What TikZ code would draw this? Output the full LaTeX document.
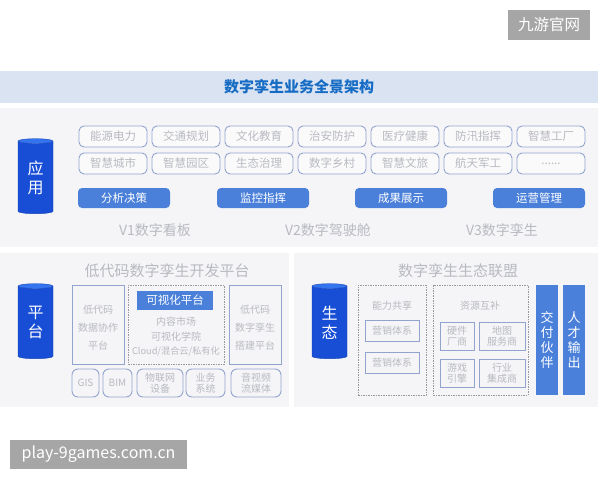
\documentclass[tikz,border=0pt]{standalone}
\usepackage{fontspec}
\setmainfont{Noto Sans CJK SC}
\usetikzlibrary{shapes.geometric}
\definecolor{bandblue}{RGB}{218,227,242}
\definecolor{panelgray}{RGB}{245,245,247}
\definecolor{ttlblue}{RGB}{22,108,196}
\definecolor{cylbody}{RGB}{24,78,214}
\definecolor{cyltop}{RGB}{52,116,238}
\definecolor{btnblue}{RGB}{74,128,218}
\definecolor{edge}{RGB}{146,164,206}
\definecolor{fade}{RGB}{184,186,193}
\definecolor{markgray}{RGB}{166,166,166}
\tikzset{
  back/.style={rectangle, draw=none, inner sep=0pt},
  cyl/.style={cylinder, shape border rotate=90, aspect=0.3, draw=cylbody!85!black,
              cylinder uses custom fill, cylinder body fill=cylbody, cylinder end fill=cyltop,
              minimum width=35pt, minimum height=75pt, inner sep=0pt,
              text=white, align=center, font=\fontsize{16}{19}\selectfont},
  tag/.style={rectangle, rounded corners=5pt, draw=edge, line width=0.9pt, fill=white!50!panelgray,
              minimum width=68pt, minimum height=21pt, inner sep=0pt,
              text=fade, font=\fontsize{11.5}{13}\selectfont},
  btn/.style={rectangle, rounded corners=4pt, fill=btnblue, draw=none,
              minimum width=92pt, minimum height=20pt, inner sep=0pt,
              text=white, font=\fontsize{11.5}{13}\selectfont},
  ver/.style={text=fade, font=\fontsize{14}{16}\selectfont},
  sec/.style={text=fade, font=\fontsize{15}{17}\selectfont},
  frame/.style={rectangle, draw=edge, line width=0.9pt, inner sep=0pt},
  dframe/.style={rectangle, draw=black!40, line width=0.8pt, dash pattern=on 1.5pt off 1pt, inner sep=0pt},
  small/.style={text=fade, font=\fontsize{10}{12}\selectfont, align=center},
  chip/.style={rectangle, rounded corners=6pt, draw=edge, line width=0.9pt, inner sep=0pt,
               minimum height=28pt, text=fade, align=center, font=\fontsize{10}{11.5}\selectfont},
  sq/.style={rectangle, draw=edge, line width=0.9pt, inner sep=0pt,
             text=fade, align=center, font=\fontsize{10}{11.5}\selectfont},
  bar/.style={rectangle, fill=btnblue, draw=none, minimum width=22pt, minimum height=110pt,
              inner sep=0pt, text=white, align=center, font=\fontsize{13}{15}\selectfont},
  markbox/.style={rectangle, fill=markgray, draw=none, inner sep=0pt, text=white},
}

\begin{document}
\begin{tikzpicture}[x=1pt, y=-1pt]
\useasboundingbox (0,0) rectangle (600,480);

%% =====================================================================
%% backgrounds: title band and the three panels
%% =====================================================================
\node[back, fill=bandblue, minimum width=598pt, minimum height=32pt] (band) at (299,87) {};
\node[text=ttlblue, font=\fontsize{15}{18}\selectfont\bfseries] (title) at (299,87) {数字孪生业务全景架构};

\node[back, fill=panelgray, minimum width=598pt, minimum height=139pt] (apppanel) at (299,177.5) {};
\node[back, fill=panelgray, minimum width=289pt, minimum height=154pt] (platpanel) at (144.5,330) {};
\node[back, fill=panelgray, minimum width=304pt, minimum height=154pt] (ecopanel) at (446,330) {};

%% =====================================================================
%% application layer
%% =====================================================================
\node[cyl] (appcyl) at (35.5,177.5) {应\\用};

%% scenario tags, two rows
\node[tag] (a1) at (113,136.5) {能源电力};
\node[tag] (a2) at (186,136.5) {交通规划};
\node[tag] (a3) at (259,136.5) {文化教育};
\node[tag] (a4) at (332,136.5) {治安防护};
\node[tag] (a5) at (405,136.5) {医疗健康};
\node[tag] (a6) at (478,136.5) {防汛指挥};
\node[tag] (a7) at (551,136.5) {智慧工厂};

\node[tag] (b1) at (113,163.5) {智慧城市};
\node[tag] (b2) at (186,163.5) {智慧园区};
\node[tag] (b3) at (259,163.5) {生态治理};
\node[tag] (b4) at (332,163.5) {数字乡村};
\node[tag] (b5) at (405,163.5) {智慧文旅};
\node[tag] (b6) at (478,163.5) {航天军工};
\node[tag] (b7) at (551,163.5) {......};

%% functions
\node[btn] (c1) at (124,198) {分析决策};
\node[btn] (c2) at (263,198) {监控指挥};
\node[btn] (c3) at (401,198) {成果展示};
\node[btn] (c4) at (539,198) {运营管理};

%% versions
\node[ver] (v1) at (155,230) {V1数字看板};
\node[ver] (v2) at (328,230) {V2数字驾驶舱};
\node[ver] (v3) at (502,230) {V3数字孪生};

%% =====================================================================
%% platform layer
%% =====================================================================
\node[cyl] (platcyl) at (35.5,322.5) {平\\台};
\node[sec] (plattitle) at (167,271) {低代码数字孪生开发平台};

\node[frame, minimum width=52pt, minimum height=79pt] (p1) at (98,324.5) {};
\node[small] at (98,310) {低代码};
\node[small] at (98,328) {数据协作};
\node[small] at (98,346) {平台};

\node[dframe, minimum width=96pt, minimum height=79pt] (p2) at (176,324.5) {};
\node[rectangle, fill=btnblue, inner sep=0pt, minimum width=76pt, minimum height=19pt,
      text=white, font=\fontsize{11.5}{13}\selectfont] (vis) at (175,300.5) {可视化平台};
\node[small] at (176,322) {内容市场};
\node[small] at (176,337) {可视化学院};
\node[small, font=\fontsize{9.2}{11}\selectfont] at (176,351) {Cloud/混合云/私有化};

\node[frame, minimum width=52pt, minimum height=79pt] (p3) at (255,324.5) {};
\node[small] at (255,310) {低代码};
\node[small] at (255,328) {数字孪生};
\node[small] at (255,346) {搭建平台};

%% data sources
\node[chip, minimum width=27pt] (d1) at (85.5,383) {GIS};
\node[chip, minimum width=29pt] (d2) at (117.5,383) {BIM};
\node[chip, minimum width=46pt] (d3) at (160,383) {物联网\\设备};
\node[chip, minimum width=39pt] (d4) at (205.5,383) {业务\\系统};
\node[chip, minimum width=50pt] (d5) at (256,383) {音视频\\流媒体};

%% =====================================================================
%% ecosystem layer
%% =====================================================================
\node[cyl] (ecocyl) at (329.5,322.5) {生\\态};
\node[sec] (ecotitle) at (458,271) {数字孪生生态联盟};

\node[dframe, minimum width=68pt, minimum height=110pt] (e1) at (392,340) {};
\node[small] at (392,306) {能力共享};
\node[sq, minimum width=54pt, minimum height=21pt] (e11) at (392,330.5) {营销体系};
\node[sq, minimum width=54pt, minimum height=21pt] (e12) at (392,362.5) {营销体系};

\node[dframe, minimum width=95pt, minimum height=110pt] (e2) at (480.5,340) {};
\node[small] at (480,306) {资源互补};
\node[sq, minimum width=34pt, minimum height=28pt] (e21) at (457,336) {硬件\\厂商};
\node[sq, minimum width=46pt, minimum height=28pt] (e22) at (502,336) {地图\\服务商};
\node[sq, minimum width=34pt, minimum height=28pt] (e23) at (457,373) {游戏\\引擎};
\node[sq, minimum width=46pt, minimum height=28pt] (e24) at (502,373) {行业\\集成商};

\node[bar] (f1) at (547,340) {交\\付\\伙\\伴};
\node[bar] (f2) at (574,340) {人\\才\\输\\出};

%% =====================================================================
%% watermarks
%% =====================================================================
\node[markbox, minimum width=82pt, minimum height=30pt, font=\fontsize{15.5}{17}\selectfont] (wm1) at (549,25) {九游官网};
\node[markbox, minimum width=177pt, minimum height=29pt, font=\fontsize{16}{18}\selectfont] (wm2) at (98.5,454.5) {play-9games.com.cn};

\end{tikzpicture}
\end{document}
